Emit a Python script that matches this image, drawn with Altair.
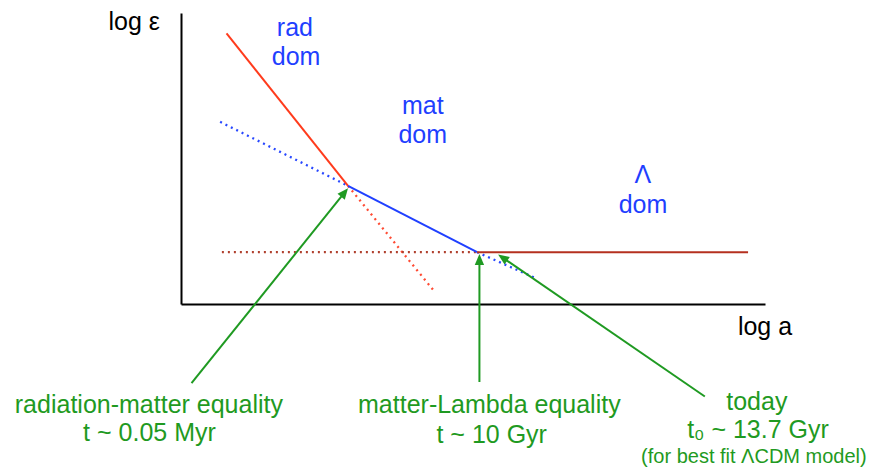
import numpy as np
import pandas as pd
import altair as alt

# ---------------- layout constants ----------------
W, H = 584, 291
XDOM = [0, 10]
YDOM = [0, 5]
FONT = "Liberation Sans"

# ---------------- data (schematic units: log a, log eps) ----------------
seg_names = ["rad_solid", "rad_dot", "mat_dot_l", "mat_solid", "mat_dot_r", "lam_dot", "lam_solid"]
seg_x = [[0.78, 2.86], [2.86, 4.32], [0.67, 2.86], [2.86, 5.07], [5.07, 6.06], [0.70, 5.07], [5.07, 9.71]]
seg_y = [[4.65, 2.03], [2.03, 0.24], [3.13, 2.03], [2.03, 0.89], [0.89, 0.45], [0.89, 0.89], [0.89, 0.89]]
seg_color = ["#ff3b1c", "#ff4b33", "#2848ff", "#2040ff", "#2848ff", "#b0402e", "#b5301f"]
seg_dotted = [False, True, True, False, True, True, False]

arrow_x0 = [0.18, 5.11, 8.97]
arrow_y0 = [-1.36, -1.34, -1.59]
arrow_x1 = [2.86, 5.11, 5.43]
arrow_y1 = [1.99, 0.86, 0.85]

text_labels = ["rad", "dom", "mat", "dom", "Λ", "dom", "log ε", "log a",
               "radiation-matter equality", "t ~ 0.05 Myr",
               "matter-Lambda equality", "t ~ 10 Gyr",
               "today", "t₀ ~ 13.7 Gyr", "(for best fit ΛCDM model)"]
text_x = [1.95, 1.97, 4.14, 4.14, 7.91, 7.91, -0.80, 10.0,
          -0.55, -0.54, 5.28, 5.32, 9.86, 9.88, 9.81]
text_y = [4.74, 4.24, 3.40, 2.90, 2.22, 1.70, 4.84, -0.40,
          -1.74, -2.22, -1.74, -2.25, -1.68, -2.16, -2.63]
text_color = ["#1f3fff"] * 6 + ["#000000"] * 2 + ["#1f9a22"] * 7
text_size = [25] * 14 + [20]

GREEN = "#1f9a22"

# ---------------- build tables ----------------
rows = []
for name, xs, ys, c, d in zip(seg_names, seg_x, seg_y, seg_color, seg_dotted):
    for i, (xv, yv) in enumerate(zip(xs, ys)):
        rows.append({"seg": name, "i": i, "x": xv, "y": yv, "color": c, "dotted": d})
lines = pd.DataFrame(rows)

sx = W / (XDOM[1] - XDOM[0])
sy = H / (YDOM[1] - YDOM[0])
ax0, ay0 = np.array(arrow_x0), np.array(arrow_y0)
ax1, ay1 = np.array(arrow_x1), np.array(arrow_y1)
dxp = (ax1 - ax0) * sx
dyp = (ay1 - ay0) * sy
L = np.hypot(dxp, dyp)
back = 6.0
ex = ax1 - back * dxp / L / sx
ey = ay1 - back * dyp / L / sy
angle = np.degrees(np.arctan2(dxp, dyp)) % 360

shaft_rows = []
for k in range(len(arrow_x0)):
    shaft_rows.append({"a": k, "i": 0, "x": ax0[k], "y": ay0[k]})
    shaft_rows.append({"a": k, "i": 1, "x": ex[k], "y": ey[k]})
shafts = pd.DataFrame(shaft_rows)
heads = pd.DataFrame({"x": ax1, "y": ay1, "angle": angle})

texts = pd.DataFrame({"label": text_labels, "x": text_x, "y": text_y,
                      "color": text_color, "fs": text_size})

# ---------------- encodings ----------------
def X():
    return alt.X("x:Q", scale=alt.Scale(domain=XDOM, nice=False, zero=False),
                 axis=alt.Axis(title=None, labels=False, ticks=False, grid=False,
                               domainColor="#000000", domainWidth=2))

def Y():
    return alt.Y("y:Q", scale=alt.Scale(domain=YDOM, nice=False, zero=False),
                 axis=alt.Axis(title=None, labels=False, ticks=False, grid=False,
                               domainColor="#000000", domainWidth=2))

solid = alt.Chart(lines[~lines.dotted]).mark_line(strokeWidth=2).encode(
    x=X(), y=Y(), detail="seg:N", order="i:Q",
    color=alt.Color("color:N", scale=None))

dotted = alt.Chart(lines[lines.dotted]).mark_line(strokeWidth=2.3, strokeDash=[2, 4]).encode(
    x=X(), y=Y(), detail="seg:N", order="i:Q",
    color=alt.Color("color:N", scale=None))

shaft = alt.Chart(shafts).mark_line(strokeWidth=2, color=GREEN).encode(
    x=X(), y=Y(), detail="a:N", order="i:Q")

head = alt.Chart(heads).mark_point(
    shape="M0,0L-0.85,2L0.85,2Z", filled=True, size=121, color=GREEN,
    opacity=1, strokeWidth=0).encode(
    x=X(), y=Y(), angle=alt.Angle("angle:Q", scale=None))

label = alt.Chart(texts).mark_text(font=FONT, align="center", baseline="middle").encode(
    x=X(), y=Y(), text="label:N",
    color=alt.Color("color:N", scale=None),
    size=alt.Size("fs:Q", scale=None))

chart = alt.layer(dotted, solid, shaft, head, label).properties(
    width=W, height=H,
    padding={"left": 173, "top": 5, "right": 104, "bottom": 163},
    autosize=alt.AutoSizeParams(type="none"),
).configure_view(strokeWidth=0)

chart.save("out.html", embed_options={"renderer": "svg", "actions": False})
